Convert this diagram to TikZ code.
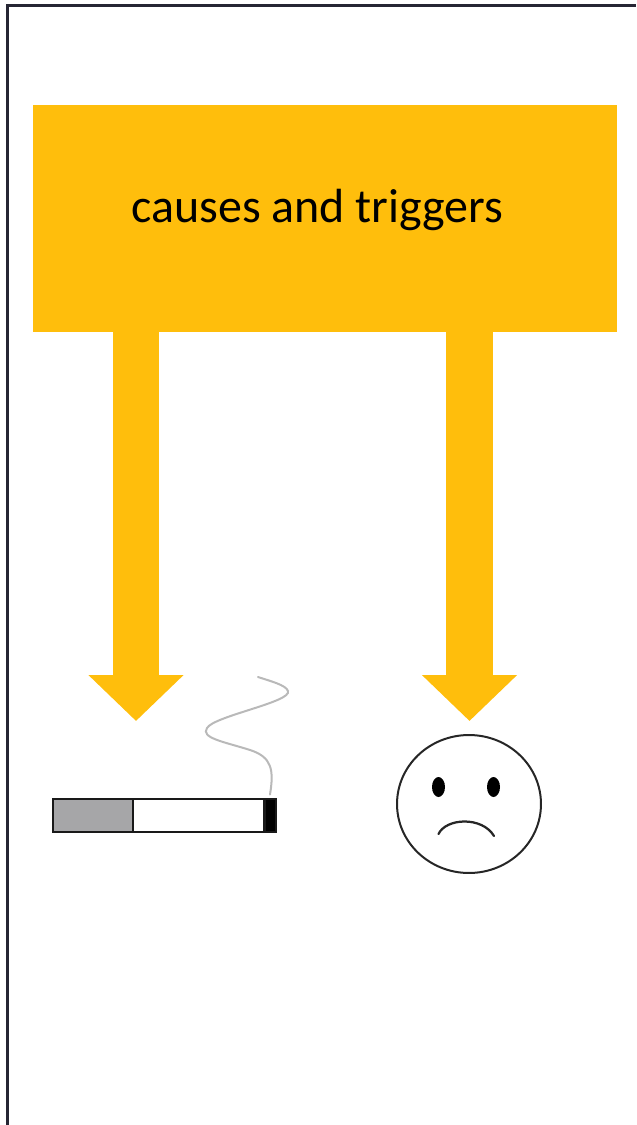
\documentclass[tikz,border=0pt]{standalone}
\usepackage{fontspec}
\setmainfont{Carlito}
\definecolor{BannerGold}{RGB}{255,190,12}
\definecolor{FrameInk}{RGB}{38,38,52}
\definecolor{AshGray}{RGB}{166,166,168}
\definecolor{SmokeGray}{RGB}{185,185,185}
\usetikzlibrary{arrows.meta, shapes.geometric, positioning}

\begin{document}
\begin{tikzpicture}[
  x=0.02cm, y=-0.02cm,
  banner/.style={
    fill=BannerGold,
    minimum width=11.68cm,
    minimum height=4.54cm,
    inner sep=0pt
  },
  caption/.style={font=\fontsize{27.3pt}{32pt}\selectfont, text=black, align=center},
  fatarrow/.style={-{Triangle[length=0.92cm, width=1.85cm]}, BannerGold, line width=0.94cm},
  part/.style={draw=black!90, line width=0.04cm, inner sep=0pt, minimum height=0.66cm},
  eye/.style={ellipse, fill=black, inner sep=0pt, minimum width=0.26cm, minimum height=0.4cm}
]
\useasboundingbox (0,0) rectangle (636,1125);

% frame runs off the page on the right and at the bottom
\coordinate (frameA) at (636,5.5);
\coordinate (frameB) at (7.5,5.5);
\coordinate (frameC) at (7.5,1125);
\draw[FrameInk, line width=0.055cm] (frameA) -- (frameB) -- (frameC);

\node[banner] (B) at (325,218.5) {};
\node[caption] (label) at (317.5,210) {causes and triggers};

\coordinate (smokeTip) at (136,721);
\coordinate (faceTip) at (469.5,721);
\draw[fatarrow] (B.south -| smokeTip) -- (smokeTip);
\draw[fatarrow] (B.south -| faceTip) -- (faceTip);

% cigarette
\node[part, fill=AshGray, minimum width=1.6cm] (ash) at (93,815) {};
\node[part, fill=white, minimum width=2.62cm] (paper) at (198.5,815) {};
\node[part, fill=black, minimum width=0.22cm] (filter) at (270,815) {};

\coordinate (smokeEnd) at (258,677);
\draw[SmokeGray, line width=0.04cm, line cap=round] (filter.north) ++(0,-3) .. controls (274,770) and (272,757) .. (250,750)
  .. controls (225,742) and (200,738) .. (207,728)
  .. controls (214,716) and (292,702) .. (288,691)
  .. controls (286,685) and (270,681) .. (smokeEnd);

% face
\node[draw=black!85, line width=0.04cm, ellipse, minimum width=2.88cm, minimum height=2.76cm, inner sep=0pt] (face) at (469,804) {};
\node[eye] (eyeL) at (438.5,787) {};
\node[eye] (eyeR) at (493.5,787) {};
\coordinate (mouthL) at (438.5,834);
\coordinate (mouthR) at (494,836);
\draw[black!85, line width=0.045cm, line cap=round] (mouthL) .. controls (446,818) and (482,816) .. (mouthR);

\end{tikzpicture}
\end{document}
